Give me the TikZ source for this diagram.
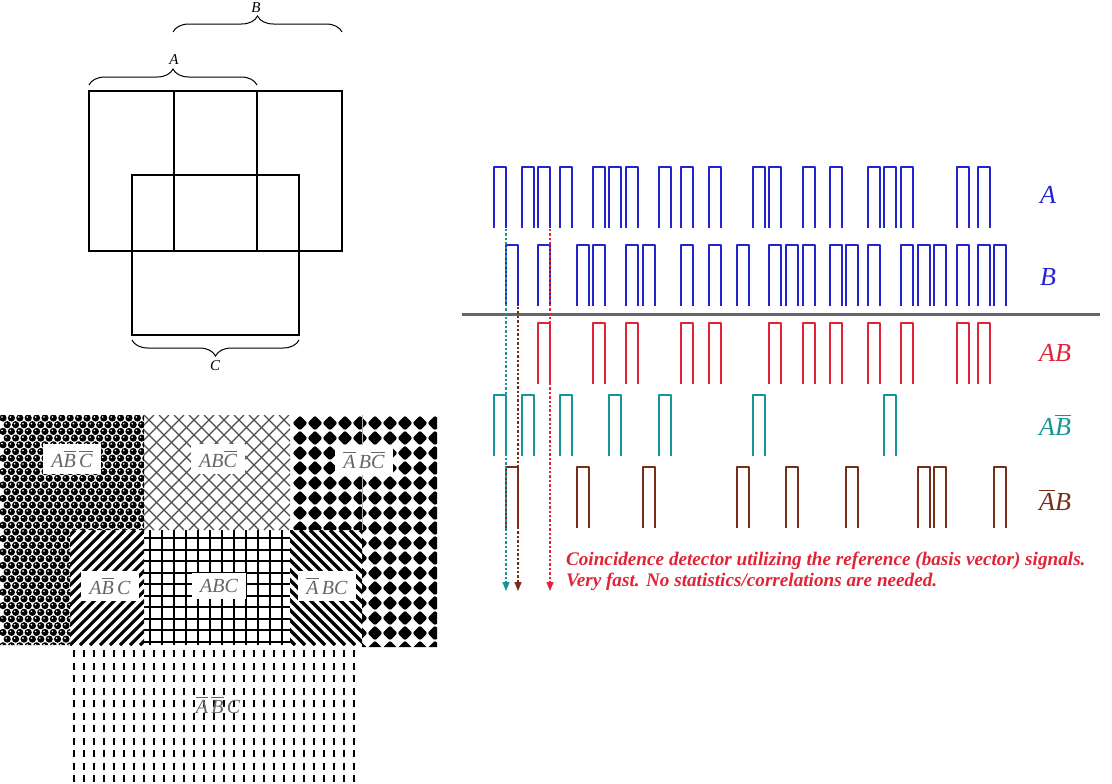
\documentclass[tikz,border=0pt]{standalone}
\usepackage{fontspec}
\setmainfont{Liberation Serif}
\usepackage{xcolor}
\usetikzlibrary{arrows.meta,decorations.pathreplacing,positioning}

\definecolor{sigblue}{RGB}{35,35,210}
\definecolor{sigred}{RGB}{225,35,55}
\definecolor{sigteal}{RGB}{20,150,150}
\definecolor{sigbrown}{RGB}{120,45,25}
\newcommand{\cmpl}[1]{$\overline{\mbox{#1}}$}

\begin{document}
\begin{tikzpicture}[x=0.5pt,y=-0.5pt,
        venn/.style={draw, line width=1.4pt},
        brc/.style={decorate, decoration={brace, amplitude=8pt}, line width=0.5pt},
        vlabel/.style={font=\fontsize{7.5}{9}\selectfont\itshape},
        region/.style={fill=white, inner xsep=4pt, inner ysep=3pt, text=black!60, font=\fontsize{10}{12}\selectfont\itshape},
        hatchline/.style={line width=0.6pt, black!70},
        stripe/.style={line width=1.6pt},
        pulse/.style={line width=1.2pt, line join=round},
        siglabel/.style={font=\fontsize{13}{15}\selectfont\itshape},
        probe/.style={dash pattern=on 1.2pt off 1pt, line width=0.6pt, -{Triangle[length=4.5pt,width=3.5pt]}}
    ]
    \useasboundingbox (0,0) rectangle (1112,783);

    % rectangles A, B, C
    \draw[venn] (89,91) rectangle (342,251);
    \draw[venn] (174,91) -- (174,251);
    \draw[venn] (257,91) -- (257,251);
    \draw[venn] (132,175) rectangle (299,335);
    \draw[brc] (89,85) -- (257,85);
    \draw[brc] (173,32) -- (342,32);
    \draw[brc] (299,340) -- (132,340);
    \node[vlabel] (vA) at (174,60) {A};
    \node[vlabel] (vB) at (256,8) {B};
    \node[vlabel] (vC) at (215,366) {C};

    % patterned regions
    \begin{scope}
        \clip (0,415) -- (144,415) -- (144,530) -- (70,530) -- (70,645) -- (0,645) -- cycle;
        \foreach \j in {0,...,35}
            \foreach \i in {0,...,18} {
                \pgfmathsetmacro{\dx}{mod(\j,2)*4.2}
                \fill (3+\dx+8.4*\i,418+6.7*\j) circle[radius=3.6];
                \fill[white] (2+\dx+8.4*\i,417+6.7*\j) circle[radius=0.9];
            }
    \end{scope}
    \begin{scope}
        \clip (144,415) rectangle (290,530);
        \foreach \i in {-8,...,10} {
            \draw[hatchline] (144+15*\i,415) -- ++(115,115);
            \draw[hatchline] (144+15*\i,530) -- ++(115,-115);
        }
    \end{scope}
    \begin{scope}
        \clip (290,415) -- (437,415) -- (437,647) -- (362,647) -- (362,530) -- (290,530) -- cycle;
        \foreach \i in {0,...,10}
            \foreach \j in {0,...,15}
                \fill[rounded corners=1pt] (292.5+15*\i,423+15*\j) -- ++(7.5,-7.5) -- ++(7.5,7.5) -- ++(-7.5,7.5) -- cycle;
        \draw[black!30, line width=0.5pt] (362,415) -- (362,530);
    \end{scope}
    \begin{scope}
        \clip (70,530) rectangle (144,645);
        \foreach \i in {-12,...,8}
            \draw[stripe] (70+10*\i,645) -- ++(115,-115);
    \end{scope}
    \begin{scope}
        \clip (290,530) rectangle (362,645);
        \foreach \i in {-12,...,8}
            \draw[stripe] (290+10*\i,530) -- ++(115,115);
    \end{scope}
    \begin{scope}
        \clip (144,530) rectangle (290,645);
        \foreach \i in {0,...,11}
            \draw[line width=1pt] (150+12*\i,530) -- ++(0,115);
        \foreach \j in {0,...,9}
            \draw[line width=1pt] (144,538+11.5*\j) -- ++(146,0);
    \end{scope}
    \begin{scope}
        \clip (70,645) rectangle (362,783);
        \foreach \i in {0,...,29}
            \foreach \j in {0,...,10}
                \draw[line width=1pt] (74+10*\i,650+12.5*\j) -- ++(0,7);
    \end{scope}

    \node[region] (rAnBnC) at (72,459) {A\cmpl{B}\,\cmpl{C}};
    \node[region] (rABnC) at (218,459) {AB\cmpl{C}};
    \node[region] (rnABnC) at (364,460) {\cmpl{A}\,B\cmpl{C}};
    \node[region] (rAnBC) at (110,586) {A\cmpl{B}\,C};
    \node[region] (rABC) at (219,586) {ABC};
    \node[region] (rnABC) at (327,586) {\cmpl{A}\,BC};
    \node[region, fill=none] (rnAnBC) at (218,705) {\cmpl{A}\,\cmpl{B}\,C};

    % pulse trains
    \foreach \x in {494,522,538,560,593,609,626,659,681,709,753,769,803,830,868,884,901,957,978}
        \draw[pulse, sigblue] (\x,228) -- (\x,167) -- (\x+12,167) -- (\x+12,228);
    \foreach \x in {506,538,577,593,626,643,681,709,737,769,786,803,830,846,868,901,918,934,957,978,994}
        \draw[pulse, sigblue] (\x,306) -- (\x,245) -- (\x+12,245) -- (\x+12,306);
    \draw[line width=1.5pt, black!60] (462,314) -- (1100,314);
    \foreach \x in {538,593,626,681,709,769,803,830,868,901,957,978}
        \draw[pulse, sigred] (\x,384) -- (\x,323) -- (\x+12,323) -- (\x+12,384);
    \foreach \x in {494,522,560,609,659,753,884}
        \draw[pulse, sigteal] (\x,456) -- (\x,395) -- (\x+12,395) -- (\x+12,456);
    \foreach \x in {506,577,643,737,786,846,918,934,994}
        \draw[pulse, sigbrown] (\x,528) -- (\x,467) -- (\x+12,467) -- (\x+12,528);

    \node[siglabel, text=sigblue] (labA) at (1048,195) {A};
    \node[siglabel, text=sigblue] (labB) at (1048,277) {B};
    \node[siglabel, text=sigred] (labAB) at (1055,353) {AB};
    \node[siglabel, text=sigteal] (labAnB) at (1055,425) {A\cmpl{B}};
    \node[siglabel, text=sigbrown] (labnAB) at (1055,500) {\cmpl{A}B};

    % coincidence probes
    \coordinate (tTop) at (506,229);
    \coordinate (tEnd) at (506,591);
    \coordinate (bTop) at (518,307);
    \coordinate (bEnd) at (518,591);
    \coordinate (rTop) at (550,229);
    \coordinate (rEnd) at (550,591);
    \draw[probe, sigteal] (tTop) -- (tEnd);
    \draw[probe, sigbrown] (bTop) -- (bEnd);
    \draw[probe, sigred] (rTop) -- (rEnd);

    \node[anchor=west, align=left, text=sigred, font=\fontsize{9.6}{10.6}\selectfont\bfseries\itshape] (note) at (559,571)
        {Coincidence detector utilizing the reference (basis vector) signals.\\Very fast. No statistics/correlations are needed.};
\end{tikzpicture}
\end{document}
